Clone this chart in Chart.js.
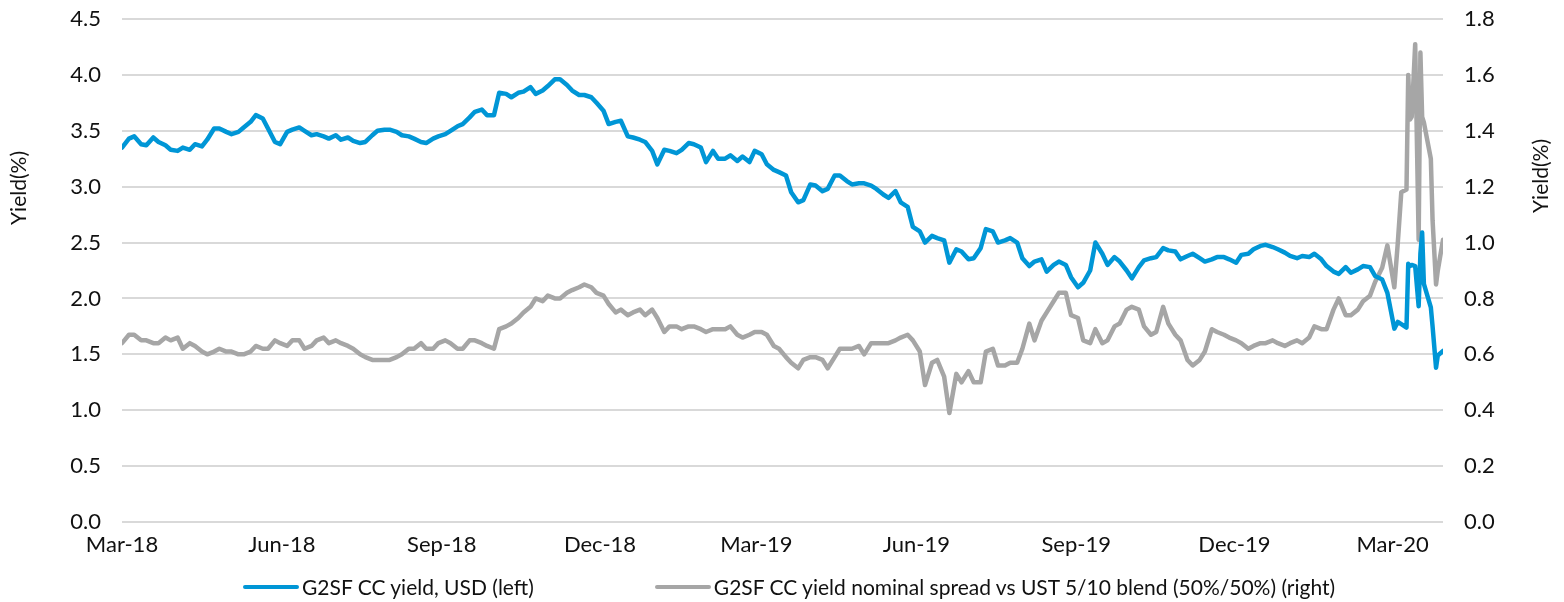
<!DOCTYPE html>
<html>
<head>
<meta charset="utf-8">
<script src="https://cdn.jsdelivr.net/npm/chart.js@4.4.1/dist/chart.umd.min.js"></script>
<style>
  html, body { margin: 0; padding: 0; background: #fff; }
  #wrap { position: relative; width: 1564px; height: 602px; font-family: Lato, sans-serif; }
  #legend { position: absolute; left: 243px; top: 574px; display: flex; align-items: center; font-size: 21px; color: #111; }
  #legend .item { display: flex; align-items: center; margin-right: 121px; white-space: nowrap; }
  #legend .swatch { width: 56px; height: 4px; border-radius: 2px; margin-right: 3px; }
</style>
</head>
<body>
<div id="wrap">
  <canvas id="chart" width="1564" height="602"></canvas>
  <div id="legend"></div>
</div>
<script>
// twice-weekly observations (Thu / Mon), then the March 2020 sell-off in more detail
const dates = [
  '2018-03-01','2018-03-05','2018-03-08','2018-03-12','2018-03-15','2018-03-19','2018-03-22','2018-03-26','2018-03-29','2018-04-02',
  '2018-04-05','2018-04-09','2018-04-12','2018-04-16','2018-04-19','2018-04-23','2018-04-26','2018-04-30','2018-05-03','2018-05-07',
  '2018-05-10','2018-05-14','2018-05-17','2018-05-21','2018-05-24','2018-05-28','2018-05-31','2018-06-04','2018-06-07','2018-06-11',
  '2018-06-14','2018-06-18','2018-06-21','2018-06-25','2018-06-28','2018-07-02','2018-07-05','2018-07-09','2018-07-12','2018-07-16',
  '2018-07-19','2018-07-23','2018-07-26','2018-07-30','2018-08-02','2018-08-06','2018-08-09','2018-08-13','2018-08-16','2018-08-20',
  '2018-08-23','2018-08-27','2018-08-30','2018-09-03','2018-09-06','2018-09-10','2018-09-13','2018-09-17','2018-09-20','2018-09-24',
  '2018-09-27','2018-10-01','2018-10-04','2018-10-08','2018-10-11','2018-10-15','2018-10-18','2018-10-22','2018-10-25','2018-10-29',
  '2018-11-01','2018-11-05','2018-11-08','2018-11-12','2018-11-15','2018-11-19','2018-11-22','2018-11-26','2018-11-29','2018-12-03',
  '2018-12-06','2018-12-10','2018-12-13','2018-12-17','2018-12-20','2018-12-24','2018-12-27','2018-12-31','2019-01-03','2019-01-07',
  '2019-01-10','2019-01-14','2019-01-17','2019-01-21','2019-01-24','2019-01-28','2019-01-31','2019-02-04','2019-02-07','2019-02-11',
  '2019-02-14','2019-02-18','2019-02-21','2019-02-25','2019-02-28','2019-03-04','2019-03-07','2019-03-11','2019-03-14','2019-03-18',
  '2019-03-21','2019-03-25','2019-03-28','2019-04-01','2019-04-04','2019-04-08','2019-04-11','2019-04-15','2019-04-18','2019-04-22',
  '2019-04-25','2019-04-29','2019-05-02','2019-05-06','2019-05-09','2019-05-13','2019-05-16','2019-05-20','2019-05-23','2019-05-27',
  '2019-05-30','2019-06-03','2019-06-06','2019-06-10','2019-06-13','2019-06-17','2019-06-20','2019-06-24','2019-06-27','2019-07-01',
  '2019-07-04','2019-07-08','2019-07-11','2019-07-15','2019-07-18','2019-07-22','2019-07-25','2019-07-29','2019-08-01','2019-08-05',
  '2019-08-08','2019-08-12','2019-08-15','2019-08-19','2019-08-22','2019-08-26','2019-08-29','2019-09-02','2019-09-05','2019-09-09',
  '2019-09-12','2019-09-16','2019-09-19','2019-09-23','2019-09-26','2019-09-30','2019-10-03','2019-10-07','2019-10-10','2019-10-14',
  '2019-10-17','2019-10-21','2019-10-24','2019-10-28','2019-10-31','2019-11-04','2019-11-07','2019-11-11','2019-11-14','2019-11-18',
  '2019-11-21','2019-11-25','2019-11-28','2019-12-02','2019-12-05','2019-12-09','2019-12-12','2019-12-16','2019-12-19','2019-12-23',
  '2019-12-26','2019-12-30','2020-01-02','2020-01-06','2020-01-09','2020-01-13','2020-01-16','2020-01-20','2020-01-23','2020-01-27',
  '2020-01-30','2020-02-03','2020-02-06','2020-02-10','2020-02-13','2020-02-17','2020-02-20',
  '2020-02-24','2020-02-27','2020-03-02','2020-03-04','2020-03-06','2020-03-09','2020-03-10','2020-03-11','2020-03-12','2020-03-14',
  '2020-03-16','2020-03-17','2020-03-18','2020-03-19','2020-03-23','2020-03-24','2020-03-26','2020-03-27','2020-03-30'
];

// G2SF CC yield, USD (left axis, %)
const yieldUsd = [
  3.35, 3.43, 3.45, 3.38, 3.37, 3.44, 3.40, 3.37, 3.33, 3.32,
  3.35, 3.33, 3.38, 3.36, 3.42, 3.52, 3.52, 3.49, 3.47, 3.49,
  3.53, 3.58, 3.64, 3.61, 3.52, 3.40, 3.38, 3.49, 3.51, 3.53,
  3.50, 3.46, 3.47, 3.45, 3.43, 3.46, 3.42, 3.44, 3.41, 3.39,
  3.40, 3.46, 3.50, 3.51, 3.51, 3.49, 3.46, 3.45, 3.43, 3.40,
  3.39, 3.43, 3.45, 3.47, 3.50, 3.54, 3.56, 3.62, 3.67, 3.69,
  3.64, 3.64, 3.84, 3.83, 3.80, 3.84, 3.85, 3.89, 3.83, 3.86,
  3.90, 3.96, 3.96, 3.91, 3.86, 3.82, 3.82, 3.80, 3.75, 3.68,
  3.56, 3.58, 3.59, 3.45, 3.44, 3.42, 3.40, 3.32, 3.20, 3.33,
  3.32, 3.30, 3.33, 3.39, 3.38, 3.35, 3.22, 3.32, 3.25, 3.25,
  3.28, 3.23, 3.27, 3.22, 3.32, 3.29, 3.20, 3.15, 3.13, 3.10,
  2.95, 2.86, 2.88, 3.02, 3.01, 2.96, 2.98, 3.10, 3.10, 3.05,
  3.02, 3.03, 3.03, 3.01, 2.98, 2.93, 2.90, 2.96, 2.86, 2.82,
  2.64, 2.60, 2.50, 2.56, 2.54, 2.52, 2.32, 2.44, 2.42, 2.35,
  2.36, 2.45, 2.62, 2.60, 2.50, 2.52, 2.54, 2.50, 2.36, 2.29,
  2.33, 2.35, 2.24, 2.30, 2.33, 2.30, 2.19, 2.10, 2.14, 2.25,
  2.50, 2.40, 2.30, 2.37, 2.33, 2.25, 2.18, 2.28, 2.34, 2.36,
  2.37, 2.45, 2.43, 2.42, 2.35, 2.38, 2.40, 2.36, 2.33, 2.35,
  2.37, 2.37, 2.35, 2.32, 2.39, 2.40, 2.44, 2.47, 2.48, 2.46,
  2.44, 2.41, 2.38, 2.36, 2.38, 2.37, 2.40, 2.35, 2.29, 2.24,
  2.22, 2.28, 2.23, 2.26, 2.29, 2.28, 2.20,
  2.17, 2.05, 1.73, 1.79, 1.77, 1.74, 2.31, 2.29, 2.30, 2.29,
  1.93, 2.40, 2.59, 2.13, 1.92, 1.75, 1.38, 1.49, 1.53
];

// nominal spread vs UST 5/10 blend (right axis, %)
const spreadUst = [
  0.64, 0.67, 0.67, 0.65, 0.65, 0.64, 0.64, 0.66, 0.65, 0.66,
  0.62, 0.64, 0.63, 0.61, 0.60, 0.61, 0.62, 0.61, 0.61, 0.60,
  0.60, 0.61, 0.63, 0.62, 0.62, 0.65, 0.64, 0.63, 0.65, 0.65,
  0.62, 0.63, 0.65, 0.66, 0.64, 0.65, 0.64, 0.63, 0.62, 0.60,
  0.59, 0.58, 0.58, 0.58, 0.58, 0.59, 0.60, 0.62, 0.62, 0.64,
  0.62, 0.62, 0.64, 0.65, 0.64, 0.62, 0.62, 0.65, 0.65, 0.64,
  0.63, 0.62, 0.69, 0.70, 0.71, 0.73, 0.75, 0.77, 0.80, 0.79,
  0.81, 0.80, 0.80, 0.82, 0.83, 0.84, 0.85, 0.84, 0.82, 0.81,
  0.78, 0.75, 0.76, 0.74, 0.75, 0.76, 0.74, 0.76, 0.73, 0.68,
  0.70, 0.70, 0.69, 0.70, 0.70, 0.69, 0.68, 0.69, 0.69, 0.69,
  0.70, 0.67, 0.66, 0.67, 0.68, 0.68, 0.67, 0.63, 0.62, 0.59,
  0.57, 0.55, 0.58, 0.59, 0.59, 0.58, 0.55, 0.59, 0.62, 0.62,
  0.62, 0.63, 0.60, 0.64, 0.64, 0.64, 0.64, 0.65, 0.66, 0.67,
  0.65, 0.61, 0.49, 0.57, 0.58, 0.52, 0.39, 0.53, 0.50, 0.54,
  0.50, 0.50, 0.61, 0.62, 0.56, 0.56, 0.57, 0.57, 0.62, 0.71,
  0.65, 0.72, 0.75, 0.79, 0.82, 0.82, 0.74, 0.73, 0.65, 0.64,
  0.69, 0.64, 0.65, 0.70, 0.71, 0.76, 0.77, 0.76, 0.70, 0.67,
  0.68, 0.77, 0.71, 0.67, 0.65, 0.58, 0.56, 0.58, 0.61, 0.69,
  0.68, 0.67, 0.66, 0.65, 0.64, 0.62, 0.63, 0.64, 0.64, 0.65,
  0.64, 0.63, 0.64, 0.65, 0.64, 0.66, 0.70, 0.69, 0.69, 0.76,
  0.80, 0.74, 0.74, 0.76, 0.79, 0.81, 0.86,
  0.91, 0.99, 0.84, 1.00, 1.18, 1.19, 1.60, 1.44, 1.45, 1.71,
  1.01, 1.68, 1.45, 1.43, 1.30, 1.08, 0.85, 0.90, 1.01
];

const tickDates = ['2018-03-01','2018-06-01','2018-09-01','2018-12-01','2019-03-01','2019-06-01','2019-09-01','2019-12-01','2020-03-01'];
const tickLabels = ['Mar-18','Jun-18','Sep-18','Dec-18','Mar-19','Jun-19','Sep-19','Dec-19','Mar-20'];

const seriesNames = ['G2SF CC yield, USD (left)', 'G2SF CC yield nominal spread vs UST 5/10 blend (50%/50%) (right)'];
const seriesColors = ['#0096d6', '#a6a6a6'];

function dayNum(s) {
  const p = s.split('-').map(Number);
  return Math.round((Date.UTC(p[0], p[1] - 1, p[2]) - Date.UTC(2018, 2, 1)) / 86400000);
}

const font = { family: "Lato, 'Noto Sans', sans-serif", size: 22 };
const textColor = '#111';

const axisTitles = {
  id: 'axisTitles',
  afterDraw(chart) {
    const ctx = chart.ctx;
    ctx.save();
    ctx.font = '21px Lato';
    ctx.fillStyle = textColor;
    ctx.textAlign = 'center';
    ctx.textBaseline = 'middle';
    [[19, 188], [1541, 176]].forEach(([x, y]) => {
      ctx.save();
      ctx.translate(x, y);
      ctx.rotate(-Math.PI / 2);
      ctx.fillText('Yield(%)', 0, 0);
      ctx.restore();
    });
    ctx.restore();
  }
};

function fixWidth(w) {
  return scale => {
    scale.width = w;
    scale.paddingTop = 0;
    scale.paddingBottom = 0;
  };
}

const chart = new Chart(document.getElementById('chart'), {
  type: 'line',
  data: {
    datasets: [
      {
        label: seriesNames[0],
        data: dates.map((d, i) => ({ x: dayNum(d), y: yieldUsd[i] })),
        yAxisID: 'y',
        borderColor: seriesColors[0],
        backgroundColor: seriesColors[0],
        borderWidth: 4.5,
        pointRadius: 0,
        borderJoinStyle: 'round',
        borderCapStyle: 'round'
      },
      {
        label: seriesNames[1],
        data: dates.map((d, i) => ({ x: dayNum(d), y: spreadUst[i] })),
        yAxisID: 'y1',
        borderColor: seriesColors[1],
        backgroundColor: seriesColors[1],
        borderWidth: 4.5,
        pointRadius: 0,
        borderJoinStyle: 'round',
        borderCapStyle: 'round'
      }
    ]
  },
  options: {
    responsive: false,
    animation: false,
    layout: { padding: { top: 19, left: 0, right: 0, bottom: 0 } },
    plugins: {
      legend: { display: false },
      tooltip: { enabled: false }
    },
    scales: {
      x: {
        type: 'linear',
        min: 0,
        max: dayNum(dates[dates.length - 1]),
        afterBuildTicks: scale => { scale.ticks = tickDates.map(d => ({ value: dayNum(d) })); },
        afterFit: scale => { scale.height = 80; },
        ticks: {
          autoSkip: false,
          maxRotation: 0,
          padding: 10,
          color: textColor,
          font: font,
          callback: (v, i) => tickLabels[i]
        },
        grid: { display: false, drawTicks: false },
        border: { display: false }
      },
      y: {
        position: 'left',
        min: 0,
        max: 4.5,
        afterFit: fixWidth(122),
        ticks: { stepSize: 0.5, padding: 21, color: textColor, font: font, callback: v => v.toFixed(1) },
        grid: { color: '#d9d9d9', lineWidth: 2, drawTicks: false },
        border: { display: false }
      },
      y1: {
        position: 'right',
        min: 0,
        max: 1.8,
        afterFit: fixWidth(121),
        ticks: { stepSize: 0.2, padding: 21, color: textColor, font: font, callback: v => v.toFixed(1) },
        grid: { display: false, drawTicks: false },
        border: { display: false }
      }
    }
  },
  plugins: [axisTitles]
});

// legend below the axis
const legendEl = document.getElementById('legend');
chart.data.datasets.forEach(ds => {
  const item = document.createElement('div');
  item.className = 'item';
  const sw = document.createElement('span');
  sw.className = 'swatch';
  sw.style.background = ds.borderColor;
  const label = document.createElement('span');
  label.textContent = ds.label;
  item.appendChild(sw);
  item.appendChild(label);
  legendEl.appendChild(item);
});
</script>
</body>
</html>
